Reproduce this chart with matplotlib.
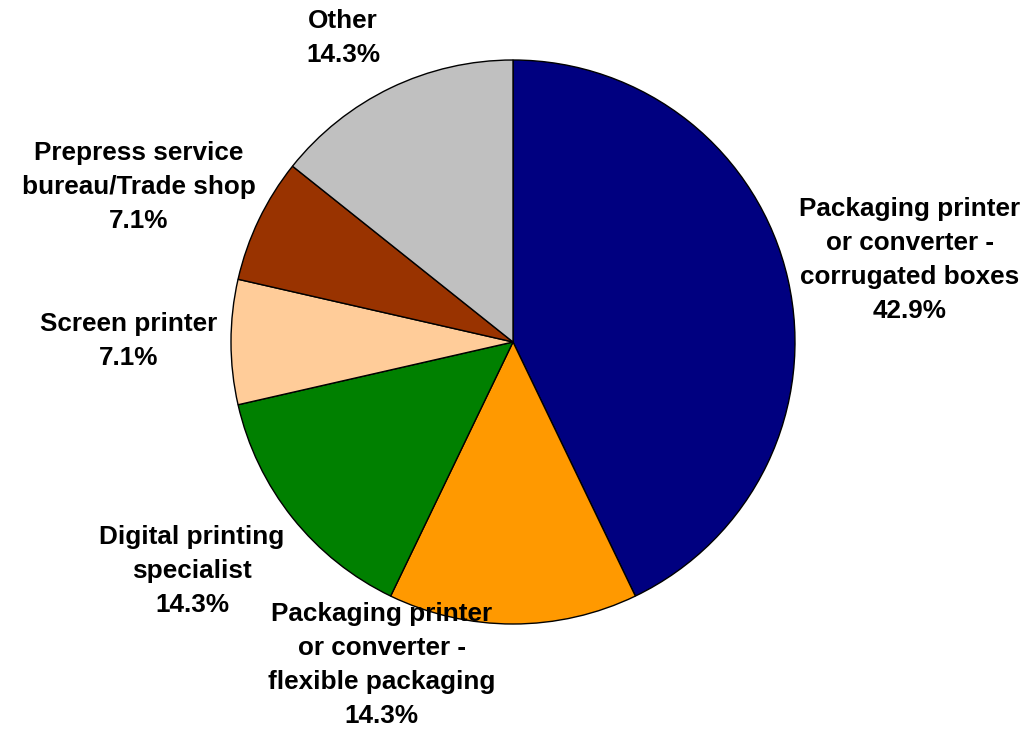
import matplotlib.pyplot as plt
import numpy as np

# Data
labels = [
    "Packaging printer\nor converter -\ncorrugated boxes",
    "Packaging printer\nor converter -\nflexible packaging",
    "Digital printing\nspecialist",
    "Screen printer",
    "Prepress service\nbureau/Trade shop",
    "Other",
]
values = [6, 2, 2, 1, 1, 2]
colors = ["#000080", "#FF9900", "#008000", "#FFCC99", "#993300", "#C0C0C0"]

# label centres, in units of the pie radius
label_pos = [
    (1.408, 0.291),
    (-0.465, -1.145),
    (-1.138, -0.812),
    (-1.362, 0.004),
    (-1.326, 0.550),
    (-0.603, 1.078),
]

plt.rcParams["font.family"] = ["Liberation Sans", "DejaVu Sans"]

fig = plt.figure(figsize=(10.26, 7.29), dpi=100)
ax = fig.add_axes([0, 0, 1, 1])

R = 282.0
cx, cy = 513.0, 342.0
ax.pie(
    values,
    colors=colors,
    startangle=90,
    counterclock=False,
    radius=1.0,
    wedgeprops=dict(edgecolor="black", linewidth=1.0),
)
ax.set_xlim(-cx / R, (1026 - cx) / R)
ax.set_ylim(-(729 - cy) / R, cy / R)
ax.set_aspect("auto")
ax.axis("off")

total = sum(values)
for lab, v, (x, y) in zip(labels, values, label_pos):
    ax.text(
        x, y, f"{lab}\n{100 * v / total:.1f}%",
        ha="center", va="center", multialignment="center",
        fontsize=18.8, fontweight="bold", linespacing=1.54,
    )

fig.savefig("out.png", dpi=100)
